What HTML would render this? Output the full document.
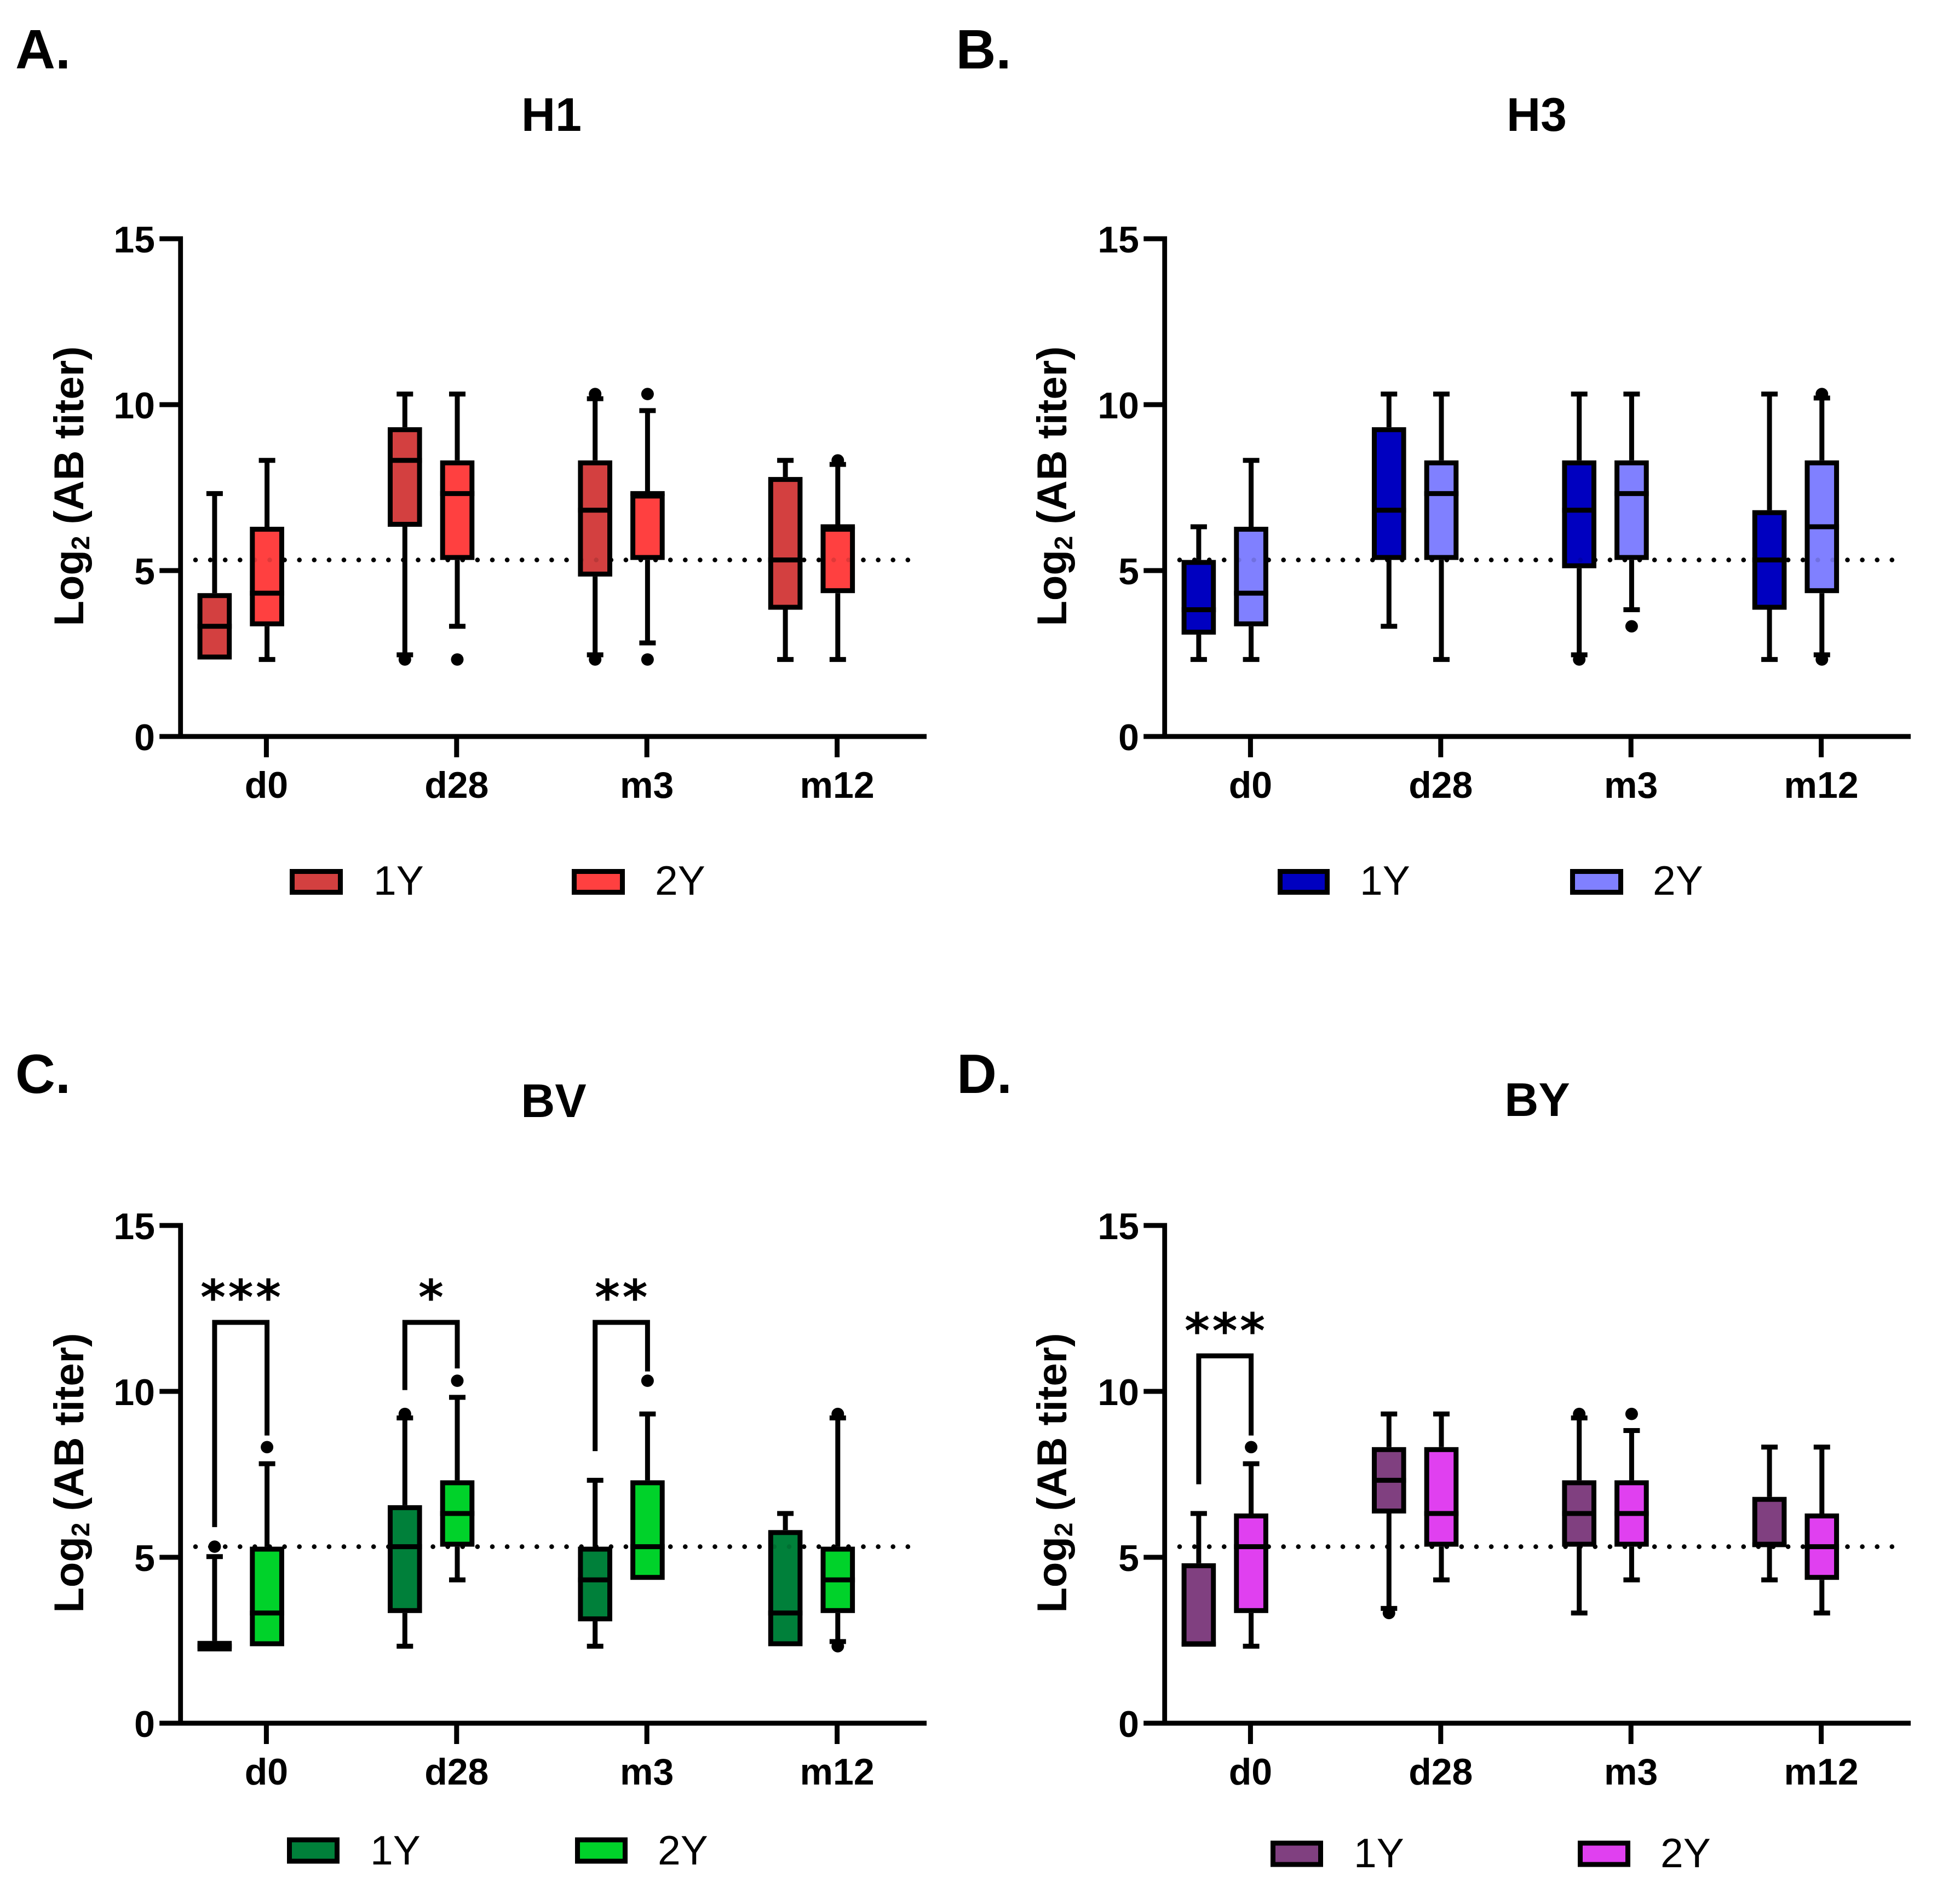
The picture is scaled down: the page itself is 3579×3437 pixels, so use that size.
<!DOCTYPE html>
<html>
<head>
<meta charset="utf-8">
<title>Log2 AB titer box plots</title>
<style>
html,body{margin:0;padding:0;background:#fff;}
svg{display:block;}
text{font-family:"Liberation Sans",Arial,sans-serif;fill:#000;}
.b{font-weight:700;}
</style>
</head>
<body>
<svg id="figure" xmlns="http://www.w3.org/2000/svg" width="3579" height="3437" viewBox="0 0 3579 3437">
<rect x="0" y="0" width="3579" height="3437" fill="#fff"/>

<text class="b" x="28" y="125" font-size="101">A.</text>
<text class="b" x="1745.5" y="125" font-size="101">B.</text>
<text class="b" x="28" y="1996" font-size="101">C.</text>
<text class="b" x="1747" y="1996" font-size="101">D.</text>

<text class="b" text-anchor="middle" x="1007" y="239" font-size="86">H1</text>
<text class="b" text-anchor="middle" x="2806" y="239" font-size="86">H3</text>
<text class="b" text-anchor="middle" x="1011" y="2040" font-size="86">BV</text>
<text class="b" text-anchor="middle" x="2807" y="2038" font-size="86">BY</text>

<text class="b" text-anchor="middle" transform="translate(152,888) rotate(-90)" font-size="76">Log<tspan font-size="46" dy="11">2</tspan><tspan dy="-11"> (AB titer)</tspan></text>
<text class="b" text-anchor="middle" transform="translate(1947,888) rotate(-90)" font-size="76">Log<tspan font-size="46" dy="11">2</tspan><tspan dy="-11"> (AB titer)</tspan></text>
<text class="b" text-anchor="middle" transform="translate(152,2690) rotate(-90)" font-size="76">Log<tspan font-size="46" dy="11">2</tspan><tspan dy="-11"> (AB titer)</tspan></text>
<text class="b" text-anchor="middle" transform="translate(1947,2690) rotate(-90)" font-size="76">Log<tspan font-size="46" dy="11">2</tspan><tspan dy="-11"> (AB titer)</tspan></text>

<rect x="533.5" y="1591.5" width="88" height="38" fill="#d34040" stroke="#000" stroke-width="9"/>
<text x="682" y="1634" font-size="75">1Y</text>
<rect x="1048.5" y="1591.5" width="88" height="38" fill="#ff4040" stroke="#000" stroke-width="9"/>
<text x="1196" y="1634" font-size="75">2Y</text>

<rect x="2337.5" y="1591.5" width="86" height="38" fill="#0000c0" stroke="#000" stroke-width="9"/>
<text x="2483" y="1634" font-size="75">1Y</text>
<rect x="2871.5" y="1591.5" width="88" height="38" fill="#8080ff" stroke="#000" stroke-width="9"/>
<text x="3018" y="1634" font-size="75">2Y</text>

<rect x="528.5" y="3360" width="87" height="39" fill="#00803a" stroke="#000" stroke-width="9"/>
<text x="676" y="3405" font-size="75">1Y</text>
<rect x="1054.5" y="3360" width="87" height="39" fill="#00d22a" stroke="#000" stroke-width="9"/>
<text x="1201" y="3405" font-size="75">2Y</text>

<rect x="2324.5" y="3366" width="87" height="39" fill="#804080" stroke="#000" stroke-width="9"/>
<text x="2472" y="3410" font-size="75">1Y</text>
<rect x="2885.5" y="3366" width="87" height="39" fill="#e040f0" stroke="#000" stroke-width="9"/>
<text x="3032" y="3410" font-size="75">2Y</text>
</svg>

<script>
const categories = ['d0', 'd28', 'm3', 'm12'];
const yTickValues = [0, 5, 10, 15];
const yTickLabels = ['0', '5', '10', '15'];
const thresholdLevel = 5.32;

/* Order of every series: d0-1Y, d0-2Y, d28-1Y, d28-2Y, m3-1Y, m3-2Y, m12-1Y, m12-2Y */
const h1Low = [2.32, 2.32, 2.46, 3.32, 2.46, 2.82, 2.32, 2.32];
const h1Q1 = [2.32, 3.32, 6.32, 5.32, 4.82, 5.32, 3.82, 4.32];
const h1Median = [3.32, 4.32, 8.32, 7.32, 6.82, 7.32, 5.32, 6.32];
const h1Q3 = [4.32, 6.32, 9.32, 8.32, 8.32, 7.32, 7.82, 6.32];
const h1High = [7.32, 8.32, 10.32, 10.32, 10.18, 9.82, 8.32, 8.2];
const h1Outliers = [[], [], [2.32], [2.32], [10.32, 2.32], [10.32, 2.32], [], [8.32]];

const h3Low = [2.32, 2.32, 3.32, 2.32, 2.46, 3.82, 2.32, 2.46];
const h3Q1 = [3.07, 3.32, 5.32, 5.32, 5.07, 5.32, 3.82, 4.32];
const h3Median = [3.82, 4.32, 6.82, 7.32, 6.82, 7.32, 5.32, 6.32];
const h3Q3 = [5.32, 6.32, 9.32, 8.32, 8.32, 8.32, 6.82, 8.32];
const h3High = [6.32, 8.32, 10.32, 10.32, 10.32, 10.32, 10.32, 10.2];
const h3Outliers = [[], [], [], [], [2.32], [3.32], [], [10.32, 2.32]];

const bvLow = [2.32, 2.32, 2.32, 4.32, 2.32, 4.32, 2.32, 2.46];
const bvQ1 = [2.165, 2.32, 3.32, 5.32, 3.07, 4.32, 2.32, 3.32];
const bvMedian = [2.32, 3.32, 5.32, 6.32, 4.32, 5.32, 3.32, 4.32];
const bvQ3 = [2.48, 5.32, 6.57, 7.32, 5.32, 7.32, 5.82, 5.32];
const bvHigh = [5.02, 7.82, 9.2, 9.82, 7.32, 9.32, 6.32, 9.2];
const bvOutliers = [[5.32], [8.32], [9.32], [10.32], [], [10.32], [], [9.32, 2.32]];

const byLow = [2.32, 2.32, 3.46, 4.32, 3.32, 4.32, 4.32, 3.32];
const byQ1 = [2.32, 3.32, 6.32, 5.32, 5.32, 5.32, 5.32, 4.32];
const byMedian = [2.38, 5.32, 7.32, 6.32, 6.32, 6.32, 5.38, 5.32];
const byQ3 = [4.82, 6.32, 8.32, 8.32, 7.32, 7.32, 6.82, 6.32];
const byHigh = [6.32, 7.82, 9.32, 9.32, 9.2, 8.82, 8.32, 8.32];
const byOutliers = [[], [8.32], [3.32], [], [9.32], [9.32], [], []];

const bvBracketGroups = [0, 1, 2];
const bvBracketTop = [12.08, 12.08, 12.08];
const bvBracketLeftEnd = [5.91, 10.04, 8.2];
const bvBracketRightEnd = [8.67, 10.69, 10.6];
const bvBracketStars = ['***', '*', '**'];

const byBracketGroups = [0];
const byBracketTop = [11.07];
const byBracketLeftEnd = [7.2];
const byBracketRightEnd = [8.67];
const byBracketStars = ['***'];

const h1Colors = ['#d34040', '#ff4040'];
const h3Colors = ['#0000c0', '#8080ff'];
const bvColors = ['#00803a', '#00d22a'];
const byColors = ['#804080', '#e040f0'];

const NS = 'http://www.w3.org/2000/svg';
const svg = document.getElementById('figure');

/* panel-local axis functions (coordinates of panel A, other panels are translated groups) */
function yScale(v) { return 1345 - v * 60.6; }
function xCategory(i) { return 486.4 + i * 347.4; }
function xBox(seriesIndex) {
  const cat = Math.floor(seriesIndex / 2);
  return xCategory(cat) + (seriesIndex % 2 === 0 ? -94.5 : 1.2);
}
function node(tag, attrs, parent) {
  const n = document.createElementNS(NS, tag);
  for (const k in attrs) n.setAttribute(k, attrs[k]);
  parent.appendChild(n);
  return n;
}

function drawAxes(g, key) {
  const axisX = 329.7;
  let el = node('line', { x1: axisX, x2: axisX, y1: yScale(15) - 4.5, y2: yScale(0) + 4.5, stroke: '#000', 'stroke-width': 8.8 }, g);
  
  
  el = node('line', { x1: 291.3, x2: 1692, y1: yScale(0), y2: yScale(0), stroke: '#000', 'stroke-width': 9 }, g);
  
  
  yTickValues.forEach(function (v, i) {
    const t = node('line', { x1: 291.3, x2: axisX, y1: yScale(v), y2: yScale(v), stroke: '#000', 'stroke-width': 9 }, g);
    
    
    const l = node('text', { x: 283, y: yScale(v) + 25, 'text-anchor': 'end', 'font-size': 68, 'font-weight': 700 }, g);
    l.textContent = yTickLabels[i];
    
    
  });
  categories.forEach(function (c, i) {
    const t = node('line', { x1: xCategory(i), x2: xCategory(i), y1: yScale(0), y2: yScale(0) + 38, stroke: '#000', 'stroke-width': 9 }, g);
    
    
    const l = node('text', { x: xCategory(i), y: 1457, 'text-anchor': 'middle', 'font-size': 68, 'font-weight': 700 }, g);
    l.textContent = c;
    
    
  });
}

function drawThreshold(g, key, stroke, suffix) {
  const el = node('line', { x1: 357, x2: 1668, y1: yScale(thresholdLevel), y2: yScale(thresholdLevel), stroke: stroke, 'stroke-width': 8.6, 'stroke-linecap': 'round', 'stroke-dasharray': '0 27.1' }, g);
  
  
}

function drawBox(g, key, i, low, q1, med, q3, high, outliers, colors) {
  const cx = xBox(i);
  const label = key + '-' + categories[Math.floor(i / 2)] + '-' + (i % 2 === 0 ? '1y' : '2y');
  const capHalf = 15;
  const boxHalf = 31.3;
  const sw = 9;

  if (high > q3) {
    const upper = node('line', { x1: cx, x2: cx, y1: yScale(high), y2: yScale(q3), stroke: '#000', 'stroke-width': sw }, g);
    
    
    const capHigh = node('line', { x1: cx - capHalf, x2: cx + capHalf, y1: yScale(high), y2: yScale(high), stroke: '#000', 'stroke-width': sw }, g);
    
    
  }
  if (low < q1) {
    const lower = node('line', { x1: cx, x2: cx, y1: yScale(q1), y2: yScale(low), stroke: '#000', 'stroke-width': sw }, g);
    
    
    const capLow = node('line', { x1: cx - capHalf, x2: cx + capHalf, y1: yScale(low), y2: yScale(low), stroke: '#000', 'stroke-width': sw }, g);
    
    
  }

  const top = yScale(q3);
  const bottom = yScale(q1);
  const box = node('rect', {
    x: cx - boxHalf + sw / 2,
    y: top + sw / 2,
    width: 2 * boxHalf - sw,
    height: Math.max(0.5, bottom - top - sw),
    fill: colors[i % 2],
    stroke: '#000',
    'stroke-width': sw
  }, g);
  
  

  const m = node('line', { x1: cx - boxHalf, x2: cx + boxHalf, y1: yScale(med), y2: yScale(med), stroke: '#000', 'stroke-width': sw }, g);
  
  

  outliers.forEach(function (v) {
    const o = node('ellipse', { cx: cx, cy: yScale(v), rx: 11.5, ry: 11.3, fill: '#000' }, g);
    
    
  });
}

function drawBrackets(g, key, groups, tops, lefts, rights, stars) {
  groups.forEach(function (cat, i) {
    const xl = xBox(cat * 2);
    const xr = xBox(cat * 2 + 1);
    const d = 'M' + xl + ' ' + yScale(lefts[i]) + 'V' + yScale(tops[i]) + 'H' + xr + 'V' + yScale(rights[i]);
    const p = node('path', { d: d, fill: 'none', stroke: '#000', 'stroke-width': 9, 'stroke-linejoin': 'miter' }, g);
    
    
    const t = node('text', { x: (xl + xr) / 2 + 2, y: yScale(tops[i]) - 15, 'text-anchor': 'middle', 'font-size': 88, 'font-weight': 700, 'letter-spacing': 4.5 }, g);
    t.style.fontFamily = '"DejaVu Sans", sans-serif';
    t.textContent = stars[i];
    
    
  });
}

function drawPanel(key, dx, dy, low, q1, med, q3, high, outliers, colors) {
  const g = node('g', { transform: 'translate(' + dx + ',' + dy + ')' }, svg);
  
  
  drawThreshold(g, key, '#000', '-threshold-line');
  low.forEach(function (_, i) {
    drawBox(g, key, i, low[i], q1[i], med[i], q3[i], high[i], outliers[i], colors);
  });
  /* faint second pass: the threshold dots show through the box fills */
  drawThreshold(g, key, 'rgba(0,0,0,0.12)', '-threshold-line-overlay');
  drawAxes(g, key);
  return g;
}

drawPanel('h1', 0, 0, h1Low, h1Q1, h1Median, h1Q3, h1High, h1Outliers, h1Colors);
drawPanel('h3', 1797, 0, h3Low, h3Q1, h3Median, h3Q3, h3High, h3Outliers, h3Colors);
const bvGroup = drawPanel('bv', 0, 1802, bvLow, bvQ1, bvMedian, bvQ3, bvHigh, bvOutliers, bvColors);
const byGroup = drawPanel('by', 1797, 1802, byLow, byQ1, byMedian, byQ3, byHigh, byOutliers, byColors);
drawBrackets(bvGroup, 'bv', bvBracketGroups, bvBracketTop, bvBracketLeftEnd, bvBracketRightEnd, bvBracketStars);
drawBrackets(byGroup, 'by', byBracketGroups, byBracketTop, byBracketLeftEnd, byBracketRightEnd, byBracketStars);
</script>
</body>
</html>
